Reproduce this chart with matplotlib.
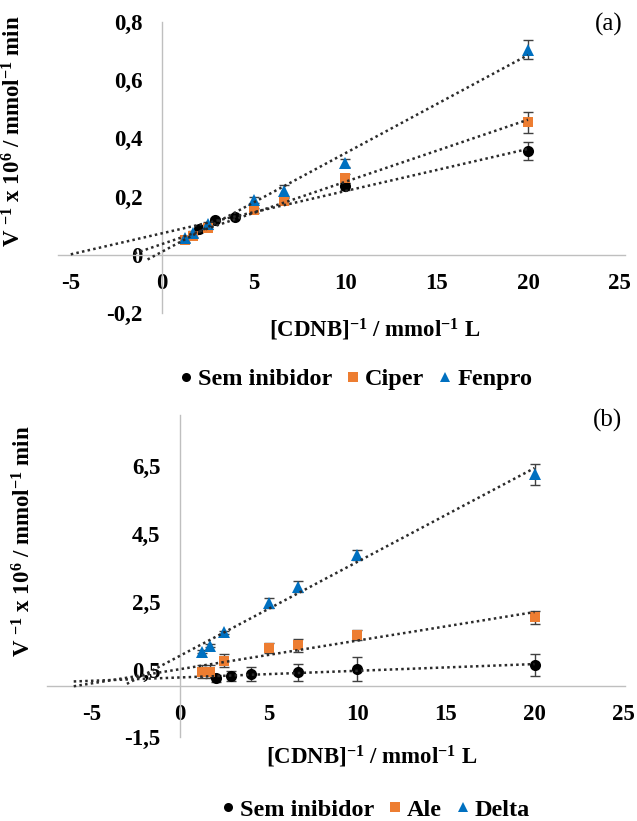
import numpy as np
import matplotlib
matplotlib.use("Agg")
import matplotlib.pyplot as plt
from matplotlib.lines import Line2D

plt.rcParams['font.family'] = ['Liberation Serif', 'DejaVu Serif']
plt.rcParams['font.weight'] = 'bold'
plt.rcParams['axes.labelweight'] = 'bold'
plt.rcParams['mathtext.fontset'] = 'custom'
plt.rcParams['mathtext.rm'] = 'Liberation Serif:bold'
plt.rcParams['mathtext.bf'] = 'Liberation Serif:bold'
plt.rcParams['mathtext.default'] = 'rm'

# Colors (Excel defaults)
COLORS = {
    'sem': '#000000',
    'orange': '#ED7D31',
    'blue': '#0070C0',
    'axis': '#BFBFBF',
    'err': '#404040',
}

# ---- panel (a) data ----
a_sem_x = [2, 2.86, 4, 10, 20]
a_sem_y = [0.09, 0.12, 0.13, 0.236, 0.356]
a_sem_err = [0.005, 0.005, 0.005, 0.012, 0.03]

a_ciper_x = [1.25, 1.67, 2.5, 5, 6.67, 10, 20]
a_ciper_y = [0.05, 0.065, 0.093, 0.153, 0.185, 0.263, 0.455]
a_ciper_err = [0.005, 0.005, 0.005, 0.008, 0.01, 0.015, 0.035]

a_fenpro_x = [1.25, 1.67, 2.5, 5, 6.67, 10, 20]
a_fenpro_y = [0.058, 0.075, 0.106, 0.188, 0.219, 0.315, 0.705]
a_fenpro_err = [0.005, 0.005, 0.008, 0.01, 0.02, 0.015, 0.033]

# ---- panel (b) data ----
b_sem_x = [2, 2.86, 4, 6.67, 10, 20]
b_sem_y = [0.24, 0.32, 0.37, 0.42, 0.51, 0.63]
b_sem_err = [0.1, 0.15, 0.2, 0.25, 0.35, 0.33]

b_ale_x = [1.25, 1.67, 2.5, 5, 6.67, 10, 20]
b_ale_y = [0.44, 0.44, 0.76, 1.13, 1.21, 1.52, 2.04]
b_ale_err = [0.2, 0.2, 0.2, 0.15, 0.2, 0.15, 0.2]

b_delta_x = [1.25, 1.67, 2.5, 5, 6.67, 10, 20]
b_delta_y = [1.03, 1.2, 1.6, 2.46, 2.95, 3.89, 6.26]
b_delta_err = [0.05, 0.05, 0.05, 0.15, 0.15, 0.15, 0.31]

x_ticks = [-5, 0, 5, 10, 15, 20, 25]
a_y_ticks = [-0.2, 0, 0.2, 0.4, 0.6, 0.8]
a_y_labels = ['-0,2', '0', '0,2', '0,4', '0,6', '0,8']
b_y_ticks = [-1.5, 0.5, 2.5, 4.5, 6.5]
b_y_labels = ['-1,5', '0,5', '2,5', '4,5', '6,5']

a_names = ['Sem inibidor', 'Ciper', 'Fenpro']
b_names = ['Sem inibidor', 'Ale', 'Delta']

YLABEL = r'V $^{-1}$ x 10$^{6}$ / mmol$^{-1}$ min'
XLABEL = r'[CDNB]$^{-1}$ / mmol$^{-1}$ L'


def draw_series(ax, x, y, err, color, marker, ms, x_start):
    x = np.asarray(x)
    y = np.asarray(y)
    ax.errorbar(x, y, yerr=err, fmt='none', ecolor=COLORS['err'],
                elinewidth=1.0, capsize=3.5, capthick=1.0, zorder=3)
    ax.plot(x, y, linestyle='none', marker=marker, ms=ms, color=color,
            markeredgewidth=0, zorder=4)
    # linear trend line
    k, b = np.polyfit(x, y, 1)
    xs = np.array([x_start, x.max()])
    ax.plot(xs, k * xs + b, linestyle=(0, (1, 1.3)), lw=1.8,
            color='#2b2b2b', zorder=5)


def style_axes(ax, xlim, ylim, yticks, ylabels):
    ax.set_xlim(*xlim)
    ax.set_ylim(*ylim)
    ax.spines['left'].set_position(('data', 0))
    ax.spines['bottom'].set_position(('data', 0))
    ax.spines['top'].set_visible(False)
    ax.spines['right'].set_visible(False)
    for s in ('left', 'bottom'):
        ax.spines[s].set_color(COLORS['axis'])
        ax.spines[s].set_linewidth(1.0)
    ax.set_xticks(x_ticks)
    ax.set_xticklabels([str(t) for t in x_ticks])
    ax.set_yticks(yticks)
    ax.set_yticklabels(ylabels)
    ax.tick_params(axis='x', length=0, pad=13, labelsize=16.5)
    ax.tick_params(axis='y', length=0, pad=14, labelsize=16.5)
    ax.patch.set_visible(False)


def legend_handles(names):
    return [
        Line2D([], [], linestyle='none', marker='o', ms=6.5,
               color=COLORS['sem'], markeredgewidth=0, label=names[0]),
        Line2D([], [], linestyle='none', marker='s', ms=6.5,
               color=COLORS['orange'], markeredgewidth=0, label=names[1]),
        Line2D([], [], linestyle='none', marker='^', ms=6.5,
               color=COLORS['blue'], markeredgewidth=0, label=names[2]),
    ]


fig = plt.figure(figsize=(6.37, 8.21), dpi=100)

# ---------------- panel (a) ----------------
ax1 = fig.add_axes([0.091, 0.619, 0.890, 0.354])
draw_series(ax1, a_sem_x, a_sem_y, a_sem_err, COLORS['sem'], 'o', 8, -5)
draw_series(ax1, a_ciper_x, a_ciper_y, a_ciper_err, COLORS['orange'], 's', 7.5, -1.5)
draw_series(ax1, a_fenpro_x, a_fenpro_y, a_fenpro_err, COLORS['blue'], '^', 8.5, -0.8)
style_axes(ax1, (-5.7, 25.3), (-0.2, 0.8), a_y_ticks, a_y_labels)
ax1.set_ylabel(YLABEL, fontsize=16.5, fontweight='bold')
ax1.yaxis.set_label_coords(-0.058, 0.625)
ax1.set_xlabel(XLABEL, fontsize=16.5, fontweight='bold')
ax1.xaxis.set_label_coords(0.559, -0.014)
fig.text(0.955, 0.970, '(a)', fontsize=18, fontweight='normal',
         ha='center', va='center')
fig.legend(handles=legend_handles(a_names), loc='center',
           bbox_to_anchor=(0.559, 0.538), ncol=3, frameon=False,
           fontsize=17.5, handlelength=0.5, handletextpad=0.25,
           columnspacing=0.6)

# ---------------- panel (b) ----------------
ax2 = fig.add_axes([0.074, 0.102, 0.907, 0.392])
draw_series(ax2, b_sem_x, b_sem_y, b_sem_err, COLORS['sem'], 'o', 8, -6)
draw_series(ax2, b_ale_x, b_ale_y, b_ale_err, COLORS['orange'], 's', 7.5, -6)
draw_series(ax2, b_delta_x, b_delta_y, b_delta_err, COLORS['blue'], '^', 8.5, -3)
style_axes(ax2, (-7.5, 25.1), (-1.5, 8.0), b_y_ticks, b_y_labels)
ax2.set_ylabel(YLABEL, fontsize=16.5, fontweight='bold')
ax2.yaxis.set_label_coords(-0.021, 0.61)
ax2.set_xlabel(XLABEL, fontsize=16.5, fontweight='bold')
ax2.xaxis.set_label_coords(0.562, -0.02)
fig.text(0.953, 0.488, '(b)', fontsize=18, fontweight='normal',
         ha='center', va='center')
fig.legend(handles=legend_handles(b_names), loc='center',
           bbox_to_anchor=(0.59, 0.0134), ncol=3, frameon=False,
           fontsize=17.5, handlelength=0.5, handletextpad=0.25,
           columnspacing=0.6)

fig.savefig('out.png', dpi=100)
